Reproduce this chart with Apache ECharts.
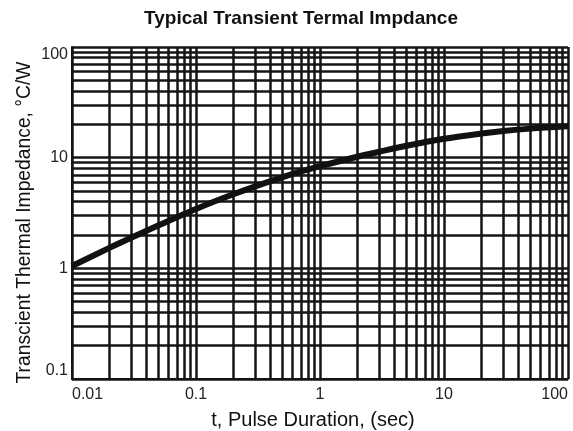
<!DOCTYPE html>
<html>
<head>
<meta charset="utf-8">
<script src="https://cdn.jsdelivr.net/npm/echarts@6/dist/echarts.min.js"></script>
<style>
  html, body { margin: 0; padding: 0; background: #fff; }
  #chart { width: 573px; height: 431px; }
</style>
</head>
<body>
<div id="chart"></div>
<script>
// pulse duration (sec) and transient thermal impedance (°C/W)
const pulseTimes = [0.01, 0.02, 0.03, 0.05, 0.1, 0.2, 0.5, 1, 2, 3, 5, 10, 20, 30, 50, 100]
const impedance = [1.05, 1.53, 1.89, 2.45, 3.44, 4.67, 6.67, 8.37, 10.2, 11.3, 12.8, 14.8, 16.5, 17.4, 18.3, 19.2]

// log grid lines
const xGrid = [
  0.01, 0.02, 0.03, 0.04, 0.05, 0.06, 0.07, 0.08, 0.09,
  0.1, 0.2, 0.3, 0.4, 0.5, 0.6, 0.7, 0.8, 0.9,
  1, 2, 3, 4, 5, 6, 7, 8, 9,
  10, 20, 30, 40, 50, 60, 70, 80, 90, 100
]
const yGrid = [
  0.1, 0.2, 0.3, 0.4, 0.5, 0.6, 0.7, 0.8, 0.9,
  1, 2, 3, 4, 5, 6, 7, 8, 9,
  10, 20, 30, 40, 50, 60, 70, 80, 90, 100
]

const xTicks = [0.01, 0.1, 1, 10, 100]
const xTickLabels = ['0.01', '0.1', '1', '10', '100']
const yTicks = [0.1, 1, 10, 100]
const yTickLabels = ['0.1', '1', '10', '100']

function tickLabel(ticks, labels, v) {
  for (let i = 0; i < ticks.length; i++) {
    if (Math.abs(Math.log10(v) - Math.log10(ticks[i])) < 1e-6) return labels[i]
  }
  return ''
}

const font = "'Liberation Sans', Arial, sans-serif"
const chart = echarts.init(document.getElementById('chart'))

chart.setOption({
  animation: false,
  title: {
    text: 'Typical Transient Termal Impdance',
    left: 296,
    textAlign: 'center',
    top: 4,
    textStyle: { fontFamily: font, fontSize: 19, fontWeight: 'bold', color: '#111' }
  },
  grid: { left: 72, top: 47, width: 496, height: 332, outerBoundsMode: 'none' },
  xAxis: {
    type: 'log',
    logBase: 10,
    min: 0.01,
    max: 100,
    name: 't, Pulse Duration, (sec)',
    nameLocation: 'middle',
    nameGap: 31,
    nameMoveOverlap: false,
    nameTextStyle: { fontFamily: font, fontSize: 20, color: '#111', padding: [0, 14, 0, 0] },
    axisLine: { show: true, lineStyle: { color: '#111', width: 2 } },
    axisTick: { show: false },
    splitLine: { show: false },
    axisLabel: {
      fontFamily: font, fontSize: 16, color: '#222', margin: 8,
      alignMinLabel: 'left', alignMaxLabel: 'right',
      formatter: v => tickLabel(xTicks, xTickLabels, v)
    }
  },
  yAxis: {
    type: 'log',
    logBase: 10,
    min: 0.1,
    max: 100,
    name: 'Transcient Thermal Impedance, °C/W',
    nameLocation: 'middle',
    nameGap: 38,
    nameMoveOverlap: false,
    nameTextStyle: { fontFamily: font, fontSize: 19.3, color: '#111', padding: [0, 19, 0, 0] },
    axisLine: { show: true, lineStyle: { color: '#111', width: 2 } },
    axisTick: { show: false },
    splitLine: { show: false },
    axisLabel: {
      fontFamily: font, fontSize: 16, color: '#222', margin: 4,
      verticalAlignMinLabel: 'bottom', verticalAlignMaxLabel: 'top',
      formatter: v => tickLabel(yTicks, yTickLabels, v)
    }
  },
  series: [
    {
      name: 'grid',
      type: 'line',
      data: [],
      z: 1,
      silent: true,
      markLine: {
        silent: true,
        symbol: 'none',
        animation: false,
        label: { show: false },
        lineStyle: { type: 'solid', color: '#151515', width: 2.5 },
        data: xGrid.map(v => ({ xAxis: v })).concat(yGrid.map(v => ({ yAxis: v })))
      }
    },
    {
      name: 'Zth',
      type: 'line',
      z: 5,
      smooth: 0.3,
      symbol: 'none',
      lineStyle: { color: '#111', width: 6 },
      data: pulseTimes.map((t, i) => [t, impedance[i]])
    }
  ]
})
</script>
</body>
</html>
